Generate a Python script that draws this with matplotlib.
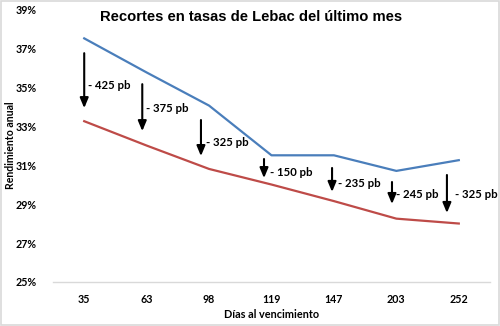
import matplotlib
matplotlib.use("Agg")
import matplotlib.pyplot as plt
from matplotlib.patches import Rectangle

categories = ["35", "63", "98", "119", "147", "203", "252"]
tasa_antes = [37.5, 35.75, 34.05, 31.5, 31.5, 30.7, 31.25]
tasa_ahora = [33.25, 32.0, 30.8, 30.0, 29.15, 28.25, 28.0]
recorte_labels = ["- 425 pb", "- 375 pb", "- 325 pb", "- 150 pb", "- 235 pb", "- 245 pb", "- 325 pb"]
yticks = [25, 27, 29, 31, 33, 35, 37, 39]

# annotation placement (data coords)
arrow_x = [0.0, 0.93, 1.87, 2.88, 3.97, 4.93, 5.81]
arrow_top = [36.74, 35.15, 33.31, 31.31, 30.85, 30.13, 30.49]
arrow_bot = [33.92, 32.74, 31.46, 30.33, 29.62, 29.0, 28.54]
label_x = [0.06, 0.99, 1.95, 2.98, 4.07, 5.0, 5.94]
label_y = [35.1, 33.92, 32.18, 30.64, 30.03, 29.51, 29.51]

FONT = "Lato"

fig = plt.figure(figsize=(5, 3.26), dpi=100)
ax = fig.add_axes([0.106, 0.135, 0.874, 0.837])
x = list(range(len(categories)))
ax.plot(x, tasa_antes, color="#4a7ebb", lw=1.6)
ax.plot(x, tasa_ahora, color="#be4b48", lw=1.6)

for xa, t, b in zip(arrow_x, arrow_top, arrow_bot):
    ax.annotate("", xy=(xa, b), xytext=(xa, t),
                arrowprops=dict(arrowstyle="-|>,head_length=0.6,head_width=0.25",
                                color="black", lw=1.5, shrinkA=0, shrinkB=0))
for lx, ly, s in zip(label_x, label_y, recorte_labels):
    ax.text(lx, ly, s, ha="left", va="center", fontsize=8.2, fontweight="bold",
            family=FONT)

ax.set_xlim(-0.5, len(categories) - 0.5)
ax.set_ylim(25, 39)
ax.set_xticks(x)
ax.set_xticklabels(categories)
ax.set_yticks(yticks)
ax.set_yticklabels([f"{v}%" for v in yticks])
for lab in ax.get_xticklabels() + ax.get_yticklabels():
    lab.set_fontweight("bold")
    lab.set_fontsize(7.7)
    lab.set_family(FONT)
ax.tick_params(length=0)
ax.tick_params(axis="y", pad=12)
ax.tick_params(axis="x", pad=9)
for s in ["top", "right", "left"]:
    ax.spines[s].set_visible(False)
ax.spines["bottom"].set_color("#d9d9d9")
ax.spines["bottom"].set_linewidth(1.0)

ax.set_xlabel("Días al vencimiento", fontsize=7.8, fontweight="bold", family=FONT)
ax.set_ylabel("Rendimiento anual", fontsize=7.6, fontweight="bold", family=FONT)
ax.yaxis.set_label_coords(-0.084, 0.5)
ax.xaxis.set_label_coords(0.5, -0.098)

fig.text(0.502, 0.947, "Recortes en tasas de Lebac del último mes", ha="center", va="center",
         fontsize=10.6, fontweight="bold", family="Liberation Sans")

fig.patches.append(Rectangle((0.002, 0.003), 0.995, 0.994, transform=fig.transFigure,
                             fill=False, edgecolor="#d9d9d9", lw=1.2))
fig.savefig("out.png", dpi=100)
